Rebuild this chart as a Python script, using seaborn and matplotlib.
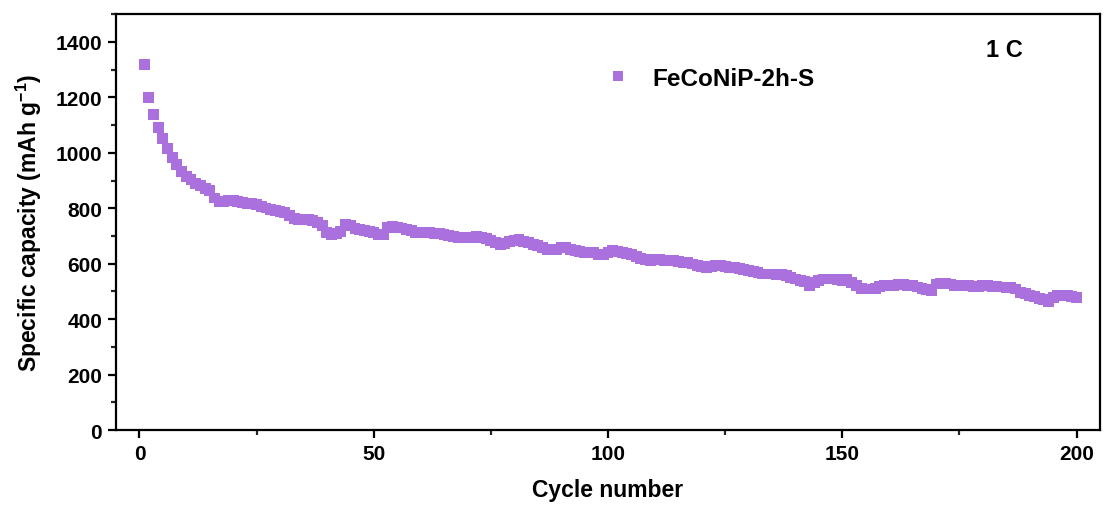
import numpy as np
import pandas as pd
import seaborn as sns
import matplotlib
matplotlib.use("Agg")
import matplotlib.pyplot as plt
from matplotlib.ticker import MultipleLocator

# Discharge capacity of FeCoNiP-2h-S at 1 C over 200 cycles
cycles = list(range(1, 201))
capacity = [
    1318, 1200, 1138, 1091, 1050, 1017, 984, 957, 934, 916,
    903, 891, 882, 873, 864, 837, 824, 825, 828, 828,
    825, 822, 818, 816, 813, 807, 801, 795, 793, 789,
    786, 773, 764, 761, 761, 758, 755, 749, 737, 713,
    707, 710, 716, 742, 737, 728, 723, 719, 716, 713,
    707, 705, 730, 733, 731, 729, 724, 719, 713, 711,
    711, 711, 710, 708, 707, 703, 699, 695, 693, 693,
    695, 698, 695, 692, 683, 677, 669, 672, 680, 683,
    686, 680, 675, 671, 665, 659, 651, 651, 653, 657,
    657, 653, 647, 644, 641, 641, 639, 634, 632, 639,
    647, 644, 641, 638, 632, 626, 620, 614, 611, 614,
    614, 612, 611, 610, 607, 606, 604, 599, 594, 589,
    587, 590, 593, 593, 590, 588, 585, 583, 580, 575,
    571, 567, 563, 563, 563, 562, 560, 557, 551, 545,
    539, 535, 523, 533, 541, 545, 545, 545, 542, 539,
    545, 533, 523, 511, 509, 509, 511, 517, 521, 521,
    523, 526, 526, 523, 521, 516, 512, 506, 503, 527,
    530, 530, 527, 523, 523, 523, 521, 519, 519, 521,
    521, 519, 519, 516, 515, 515, 509, 497, 491, 487,
    481, 475, 470, 463, 479, 485, 485, 485, 483, 479,
]
sample = ["FeCoNiP-2h-S"] * len(cycles)

df = pd.DataFrame({"Cycle number": cycles, "Capacity": capacity, "Sample": sample})

sns.set_style("white")
plt.rcParams["font.family"] = ["Liberation Sans", "DejaVu Sans"]
plt.rcParams["mathtext.fontset"] = "custom"
plt.rcParams["mathtext.rm"] = "Liberation Sans:bold"
plt.rcParams["mathtext.it"] = "Liberation Sans:bold"
plt.rcParams["mathtext.bf"] = "Liberation Sans:bold"
plt.rcParams["text.color"] = "black"
plt.rcParams["axes.labelcolor"] = "black"

purple = "#AA70DE"

fig = plt.figure(figsize=(11.05, 5.06), dpi=100)
ax = fig.add_axes([0.105, 0.148, 0.8905, 0.822])

sns.scatterplot(data=df, x="Cycle number", y="Capacity", hue="Sample",
                palette=[purple], marker="s", s=62, linewidth=0, ax=ax)

ax.set_xlim(-5, 205)
ax.set_ylim(0, 1500)
ax.xaxis.set_major_locator(MultipleLocator(50))
ax.xaxis.set_minor_locator(MultipleLocator(25))
ax.yaxis.set_minor_locator(MultipleLocator(100))
ax.set_yticks([0, 200, 400, 600, 800, 1000, 1200, 1400])

for sp in ax.spines.values():
    sp.set_visible(True)
    sp.set_linewidth(1.6)
    sp.set_color("black")

ax.tick_params(axis="both", which="major", direction="out", length=6, width=1.6,
               labelsize=15, colors="black", pad=4,
               bottom=True, left=True, top=False, right=False)
ax.tick_params(axis="both", which="minor", direction="out", length=3.5, width=1.6,
               bottom=True, left=True, top=False, right=False)
for lbl in ax.get_xticklabels() + ax.get_yticklabels():
    lbl.set_fontweight("bold")

ax.set_xlabel("Cycle number", fontsize=16.5, fontweight="bold", labelpad=11)
ax.set_ylabel("Specific capacity (mAh g$^{-1}$)", fontsize=16.5, fontweight="bold", labelpad=8)

leg = ax.legend(loc="center left", bbox_to_anchor=(0.499, 0.846), frameon=False,
                handlelength=0.9, handletextpad=0.95,
                borderpad=0, borderaxespad=0, markerscale=0.85,
                prop={"weight": "bold", "size": 17.5})

ax.text(0.903, 0.914, "1 C", transform=ax.transAxes, ha="center", va="center",
        fontsize=17, fontweight="bold")

fig.savefig("out.png", dpi=100)
